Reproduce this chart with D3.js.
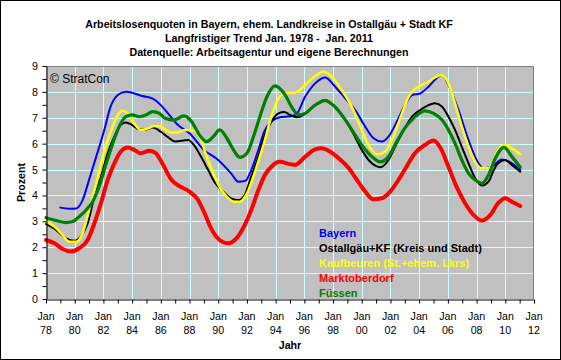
<!DOCTYPE html>
<html><head><meta charset="utf-8">
<script src="https://cdn.jsdelivr.net/npm/d3@7"></script>
<style>
html,body{margin:0;padding:0;background:#fff;}
svg{display:block;font-family:"Liberation Sans",Arial,sans-serif;}
</style></head>
<body><svg id="c" width="561" height="360"></svg>
<script>
const titleLines = ["Arbeitslosenquoten in Bayern, ehem. Landkreise in Ostallgäu + Stadt KF",
  "Langfristiger Trend Jan. 1978 -  Jan. 2011",
  "Datenquelle: Arbeitsagentur und eigene Berechnungen"];
const seriesNames = ["Bayern","Ostallgäu+KF (Kreis und Stadt)","Kaufbeuren (St.+ehem. Lkrs)","Marktoberdorf","Füssen"];
const seriesColors = ["#0000ff","#000000","#ffff00","#ff0000","#008000"];
const xTickYears = [1978,1980,1982,1984,1986,1988,1990,1992,1994,1996,1998,2000,2002,2004,2006,2008,2010,2012];
const yTicks = [0,1,2,3,4,5,6,7,8,9];

const bayern = [[1979.0,3.53],[1979.6,3.49],[1980.1,3.50],[1980.55,3.82],[1981.0,4.60],[1981.5,5.50],[1982.06,6.53],[1982.5,7.43],[1983.0,7.88],[1983.57,8.01],[1984.0,7.97],[1984.7,7.84],[1985.4,7.75],[1986.0,7.49],[1986.6,7.1],[1987.2,6.72],[1988.0,6.40],[1989.0,5.76],[1990.0,5.37],[1990.9,4.85],[1991.4,4.53],[1991.9,4.57],[1992.3,4.98],[1992.8,5.76],[1993.2,6.46],[1993.7,6.85],[1994.3,7.02],[1995.0,7.06],[1995.4,7.11],[1996.06,7.82],[1996.75,8.33],[1997.45,8.56],[1998.15,8.20],[1998.85,7.75],[1999.54,7.30],[2000.24,6.66],[2000.82,6.21],[2001.4,6.08],[2001.86,6.27],[2002.44,6.85],[2003.0,7.48],[2003.5,7.88],[2004.07,7.94],[2004.65,8.20],[2005.35,8.59],[2005.63,8.65],[2006.04,8.27],[2006.74,7.30],[2007.44,6.14],[2008.0,5.37],[2008.48,5.05],[2009.06,5.11],[2009.76,5.39],[2010.46,5.24],[2011.04,4.98]];
const ostallgaeu = [[1978.0,2.90],[1978.7,2.67],[1979.4,2.34],[1980.0,2.25],[1980.4,2.40],[1980.9,2.92],[1981.37,3.95],[1981.83,4.72],[1982.3,5.63],[1982.76,6.27],[1983.2,6.72],[1983.57,6.82],[1984.0,6.72],[1984.5,6.55],[1984.97,6.55],[1985.43,6.62],[1986.0,6.46],[1986.5,6.25],[1987.0,6.08],[1987.9,6.14],[1988.3,5.95],[1988.8,5.50],[1989.3,4.98],[1989.8,4.47],[1990.35,4.15],[1990.9,3.89],[1991.4,3.82],[1991.85,4.02],[1992.3,4.73],[1992.8,5.50],[1993.2,6.27],[1993.7,6.85],[1994.2,7.17],[1994.6,7.22],[1995.0,7.11],[1995.48,7.02],[1996.06,7.15],[1996.75,7.49],[1997.45,7.69],[1998.0,7.49],[1998.7,7.04],[1999.4,6.40],[2000.0,5.76],[2000.7,5.24],[2001.3,5.09],[2001.86,5.37],[2002.44,6.01],[2003.0,6.6],[2003.5,7.04],[2004.07,7.30],[2004.65,7.49],[2005.1,7.56],[2005.6,7.43],[2006.04,7.04],[2006.5,6.53],[2006.97,5.88],[2007.44,5.24],[2007.9,4.66],[2008.37,4.38],[2008.83,4.53],[2009.2,4.98],[2009.5,5.24],[2010.0,5.37],[2010.46,5.18],[2011.04,4.92]];
const kaufbeuren = [[1978.0,2.99],[1978.6,2.79],[1979.16,2.47],[1979.6,2.21],[1980.1,2.21],[1980.55,2.54],[1981.0,3.44],[1981.5,4.47],[1981.95,5.50],[1982.4,6.27],[1982.88,6.98],[1983.34,7.27],[1983.7,7.17],[1984.15,6.78],[1984.6,6.53],[1985.1,6.59],[1985.55,6.68],[1986.0,6.66],[1986.5,6.47],[1987.0,6.42],[1987.7,6.53],[1988.3,6.50],[1988.75,6.21],[1989.2,5.50],[1989.7,4.79],[1990.15,4.27],[1990.6,3.95],[1991.06,3.76],[1991.5,3.76],[1992.0,4.08],[1992.45,4.73],[1992.9,5.50],[1993.25,6.14],[1993.7,7.04],[1994.2,7.75],[1994.6,7.94],[1995.0,7.97],[1995.36,7.97],[1996.06,8.27],[1996.75,8.61],[1997.33,8.78],[1997.9,8.59],[1998.6,8.07],[1999.3,7.43],[1999.9,6.66],[2000.47,5.95],[2001.05,5.59],[2001.63,5.69],[2002.2,6.27],[2002.8,7.17],[2003.25,7.8],[2003.95,8.2],[2004.65,8.39],[2005.1,8.56],[2005.58,8.65],[2006.04,8.33],[2006.5,7.56],[2006.97,6.66],[2007.44,5.88],[2007.9,5.30],[2008.37,5.05],[2008.83,5.05],[2009.2,5.37],[2009.5,5.76],[2010.0,5.95],[2010.46,5.82],[2011.04,5.59]];
const marktoberdorf = [[1978.0,2.28],[1978.6,2.15],[1979.16,1.93],[1979.75,1.83],[1980.3,1.96],[1980.9,2.28],[1981.37,2.92],[1981.83,3.70],[1982.3,4.60],[1982.76,5.24],[1983.2,5.69],[1983.7,5.85],[1984.15,5.76],[1984.6,5.63],[1985.2,5.73],[1985.66,5.63],[1986.1,5.24],[1986.75,4.60],[1987.3,4.36],[1988.0,4.15],[1988.6,3.82],[1989.05,3.31],[1989.5,2.73],[1990.1,2.28],[1990.7,2.15],[1991.27,2.34],[1991.85,2.86],[1992.3,3.44],[1992.8,4.21],[1993.25,4.79],[1993.7,5.11],[1994.3,5.30],[1995.0,5.21],[1995.36,5.18],[1996.06,5.50],[1996.75,5.78],[1997.2,5.82],[1997.8,5.69],[1998.4,5.43],[1999.1,5.05],[1999.66,4.60],[2000.24,4.15],[2000.8,3.85],[2001.4,3.89],[2001.98,4.15],[2002.56,4.60],[2003.0,5.0],[2003.7,5.63],[2004.4,5.95],[2005.0,6.12],[2005.5,5.82],[2006.04,5.11],[2006.6,4.34],[2007.2,3.70],[2007.8,3.24],[2008.37,3.03],[2008.95,3.24],[2009.5,3.70],[2010.0,3.89],[2010.46,3.76],[2011.04,3.59]];
const fuessen = [[1978.0,3.14],[1978.7,3.03],[1979.4,2.95],[1979.86,2.99],[1980.3,3.18],[1980.8,3.44],[1981.25,3.76],[1981.7,4.34],[1982.2,5.24],[1982.65,6.01],[1983.1,6.66],[1983.57,7.04],[1984.0,7.11],[1984.5,7.04],[1984.97,7.11],[1985.43,7.24],[1985.9,7.17],[1986.3,6.98],[1986.9,6.91],[1987.6,7.07],[1988.15,6.85],[1988.7,6.33],[1989.2,6.08],[1989.65,6.27],[1990.1,6.53],[1990.6,6.21],[1991.06,5.76],[1991.5,5.47],[1992.0,5.63],[1992.45,6.27],[1992.9,7.04],[1993.4,7.82],[1993.95,8.23],[1994.4,8.07],[1994.7,7.85],[1995.1,7.43],[1995.6,7.11],[1996.06,7.17],[1996.75,7.49],[1997.45,7.66],[1998.0,7.49],[1998.7,7.04],[1999.4,6.46],[2000.0,5.95],[2000.7,5.50],[2001.3,5.30],[2001.86,5.50],[2002.44,6.08],[2003.0,6.6],[2003.6,6.98],[2004.4,7.27],[2005.0,7.17],[2005.6,6.91],[2006.04,6.53],[2006.5,6.01],[2006.97,5.37],[2007.44,4.85],[2007.9,4.60],[2008.37,4.47],[2008.83,4.79],[2009.3,5.43],[2009.9,5.86],[2010.46,5.50],[2011.04,5.09]];

const seriesData = [bayern, ostallgaeu, kaufbeuren, marktoberdorf, fuessen];
const seriesWidths = [2, 2, 2.5, 4, 3.2];

const svg = d3.select("#c");
const L = 46, R = 534, T = 66, B = 299;
const x = d3.scaleLinear().domain([1978, 2012]).range([L, R]);
const y = d3.scaleLinear().domain([0, 9]).range([B, T]);

svg.append("rect").attr("x",0.5).attr("y",0.5).attr("width",560).attr("height",359)
  .attr("fill","#fff").attr("stroke","#000").attr("stroke-width",1);

// titles
svg.append("g").selectAll("text").data(titleLines).join("text")
  .attr("x",269).attr("y",(d,i)=>27.7+i*14.2).attr("text-anchor","middle")
  .style("white-space","pre")
  .attr("font-size","10.67px").attr("font-weight","bold").text(d=>d);

// plot area
svg.append("rect").attr("x",L).attr("y",T).attr("width",R-L).attr("height",B-T)
  .attr("fill","#c0c0c0");

// grid
const gridC = "#ccffff";
svg.append("g").selectAll("line").data(xTickYears.slice(1,-1)).join("line")
  .attr("x1",d=>Math.round(x(d))+0.5).attr("x2",d=>Math.round(x(d))+0.5)
  .attr("y1",T).attr("y2",B).attr("stroke",gridC).attr("stroke-width",1);
svg.append("g").selectAll("line").data(yTicks.slice(1,-1)).join("line")
  .attr("y1",d=>Math.round(y(d))+0.5).attr("y2",d=>Math.round(y(d))+0.5)
  .attr("x1",L).attr("x2",R).attr("stroke",gridC).attr("stroke-width",1);
// frame top/right
svg.append("path").attr("d",`M${L},${T+0.5}H${R-0.5}V${B}`).attr("fill","none").attr("stroke","#808080");

// series
const line = d3.line().x(d=>x(d[0])).y(d=>y(d[1])).curve(d3.curveMonotoneX);
const lineG = svg.append("g");
seriesData.forEach((s,i)=>{
  lineG.append("path").attr("d",line(s)).attr("fill","none")
    .attr("stroke",seriesColors[i]).attr("stroke-width",seriesWidths[i])
    .attr("stroke-linejoin","round").attr("stroke-linecap","round");
});

// y axis
const yMinor = d3.range(0, 9.01, 0.5);
const ya = svg.append("g").attr("transform",`translate(${L+0.5},0)`)
  .call(d3.axisLeft(y).tickValues(yMinor).tickSize(4).tickSizeOuter(0).tickFormat(""));
ya.selectAll("path,line").attr("stroke","#000");
svg.append("g").selectAll("text").data(yTicks).join("text")
  .attr("x",38).attr("y",d=>y(d)+4).attr("text-anchor","end")
  .attr("font-size","10.67px").text(d=>d);

// x axis
const xMinor = d3.range(1978, 2012.01, 1);
const xa = svg.append("g").attr("transform",`translate(0,${B+0.5})`)
  .call(d3.axisBottom(x).tickValues(xMinor).tickSize(4).tickSizeOuter(0).tickFormat(""));
xa.selectAll("path,line").attr("stroke","#000");
const xl = svg.append("g").selectAll("text").data(xTickYears).join("text")
  .attr("text-anchor","middle").attr("font-size","10.67px");
xl.append("tspan").attr("x",d=>x(d)).attr("y",319.5).text("Jan");
xl.append("tspan").attr("x",d=>x(d)).attr("y",334).text(d=>String(d%100).padStart(2,"0"));

svg.append("text").attr("x",(L+R)/2).attr("y",348.5).attr("text-anchor","middle")
  .attr("font-size","10.67px").attr("font-weight","bold").text("Jahr");
svg.append("text").attr("transform",`translate(24.5,${(T+B)/2}) rotate(-90)`)
  .attr("text-anchor","middle").attr("font-size","10.67px").attr("font-weight","bold").text("Prozent");

svg.append("text").attr("x",50).attr("y",82.5).attr("font-size","12px").text("© StratCon");

// legend
svg.append("g").selectAll("text").data(seriesNames).join("text")
  .attr("x",319).attr("y",(d,i)=>237+i*15).attr("font-size","11px").attr("font-weight","bold")
  .attr("fill",(d,i)=>seriesColors[i]).text(d=>d);
</script></body></html>
